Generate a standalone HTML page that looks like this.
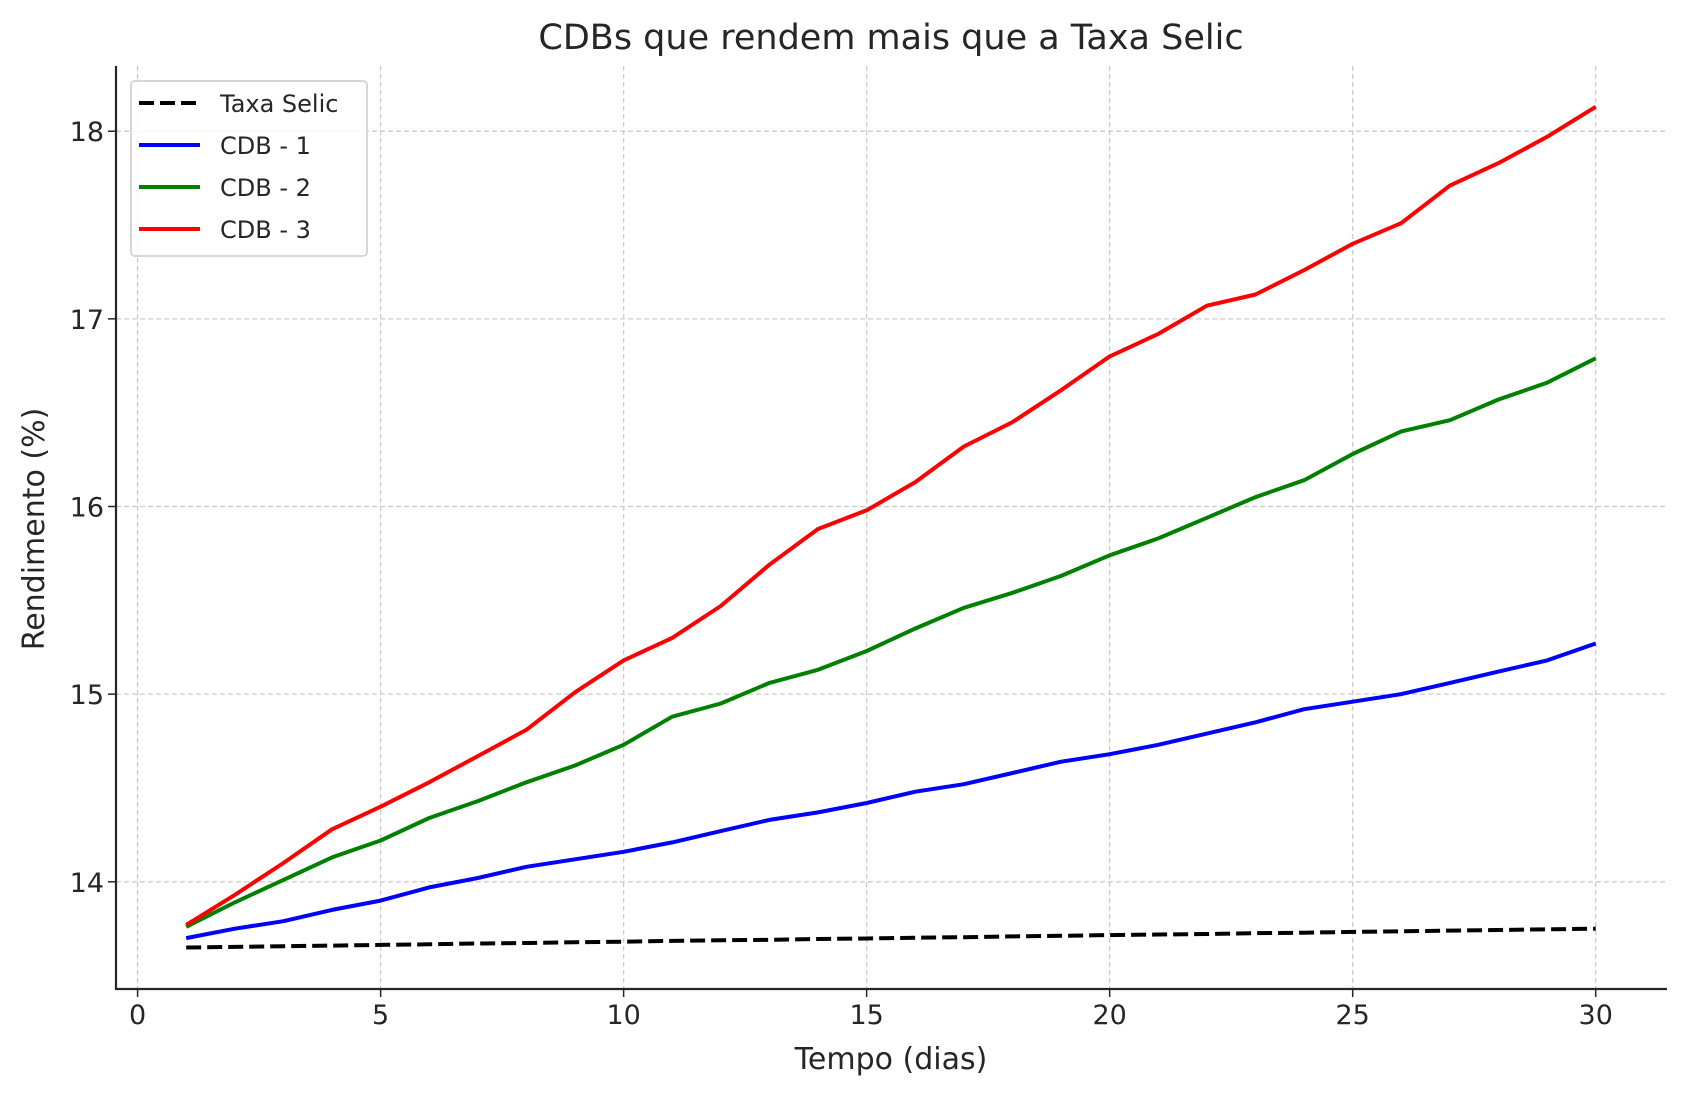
<!DOCTYPE html>
<html><head><meta charset="utf-8"><style>
html,body{margin:0;padding:0;background:#fff;}
svg text{font-family:"DejaVu Sans","Liberation Sans",sans-serif;fill:#262626;}
</style></head><body>
<svg id="chart" width="1686" height="1097" xmlns="http://www.w3.org/2000/svg">
<rect width="1686" height="1097" fill="#fff"/>
<g id="grid"></g>
<g id="series"></g>
<g id="axes"></g>
<text x="891" y="49" font-size="35" text-anchor="middle">CDBs que rendem mais que a Taxa Selic</text>
<text x="891" y="1069" font-size="30" text-anchor="middle">Tempo (dias)</text>
<text x="0" y="0" font-size="30" text-anchor="middle" transform="translate(44,529) rotate(-90)">Rendimento (%)</text>
<g id="legend"></g>
</svg>
<script>
const days = [1,2,3,4,5,6,7,8,9,10,11,12,13,14,15,16,17,18,19,20,21,22,23,24,25,26,27,28,29,30];
const selic = [13.65,13.653,13.657,13.66,13.664,13.667,13.671,13.674,13.678,13.681,13.685,13.688,13.691,13.695,13.698,13.702,13.705,13.709,13.712,13.716,13.719,13.722,13.726,13.729,13.733,13.736,13.74,13.743,13.747,13.75];
const cdb1 = [13.70,13.75,13.79,13.85,13.90,13.97,14.02,14.08,14.12,14.16,14.21,14.27,14.33,14.37,14.42,14.48,14.52,14.58,14.64,14.68,14.73,14.79,14.85,14.92,14.96,15.00,15.06,15.12,15.18,15.27];
const cdb2 = [13.76,13.89,14.01,14.13,14.22,14.34,14.43,14.53,14.62,14.73,14.88,14.95,15.06,15.13,15.23,15.35,15.46,15.54,15.63,15.74,15.83,15.94,16.05,16.14,16.28,16.40,16.46,16.57,16.66,16.79];
const cdb3 = [13.77,13.93,14.10,14.28,14.40,14.53,14.67,14.81,15.01,15.18,15.30,15.47,15.69,15.88,15.98,16.13,16.32,16.45,16.62,16.80,16.92,17.07,17.13,17.26,17.40,17.51,17.71,17.83,17.97,18.13];
const xTicks = [0,5,10,15,20,25,30];
const yTicks = [14,15,16,17,18];
const seriesNames = ["Taxa Selic","CDB - 1","CDB - 2","CDB - 3"];

const NS = "http://www.w3.org/2000/svg";
const L = 116, R = 1667, T = 66, B = 989;
function xs(v){ return 137.6 + v * (1595.7 - 137.6) / 30; }
function ys(v){ return 881.8 - (v - 14) * (881.8 - 131.2) / 4; }
function mk(tag, attrs, parent){ const e = document.createElementNS(NS, tag); for (const k in attrs) e.setAttribute(k, attrs[k]); parent.appendChild(e); return e; }

const grid = document.getElementById('grid');
const axes = document.getElementById('axes');
xTicks.forEach(t => {
  const g = mk('line', {x1: xs(t), x2: xs(t), y1: T, y2: B, stroke: '#cccccc', 'stroke-width': 1.3, 'stroke-dasharray': '5,3'}, grid);
  
  
  const tk = mk('line', {x1: xs(t), x2: xs(t), y1: B, y2: B + 8, stroke: '#262626', 'stroke-width': 1.5}, axes);
  
  
  const lb = mk('text', {x: xs(t), y: B + 35, 'font-size': 27, 'text-anchor': 'middle'}, axes);
  lb.textContent = t;
  
  
});
yTicks.forEach(t => {
  const g = mk('line', {x1: L, x2: R, y1: ys(t), y2: ys(t), stroke: '#cccccc', 'stroke-width': 1.3, 'stroke-dasharray': '5,3'}, grid);
  
  
  const tk = mk('line', {x1: L - 8, x2: L, y1: ys(t), y2: ys(t), stroke: '#262626', 'stroke-width': 1.5}, axes);
  
  
  const lb = mk('text', {x: L - 12, y: ys(t) + 10, 'font-size': 27, 'text-anchor': 'end'}, axes);
  lb.textContent = t;
  
  
});
const ax1 = mk('line', {x1: L, x2: L, y1: T, y2: B + 1, stroke: '#262626', 'stroke-width': 2.2}, axes);


const ax2 = mk('line', {x1: L - 1, x2: R, y1: B, y2: B, stroke: '#262626', 'stroke-width': 2.2}, axes);



const ser = document.getElementById('series');
const defs = [
  {vals: selic, color: '#000000', dash: '15,6', name: 'line-taxa-selic'},
  {vals: cdb1, color: '#0000ff', dash: null, name: 'line-cdb-1'},
  {vals: cdb2, color: '#008000', dash: null, name: 'line-cdb-2'},
  {vals: cdb3, color: '#ff0000', dash: null, name: 'line-cdb-3'}
];
defs.forEach(d => {
  const pts = days.map((x, i) => xs(x).toFixed(1) + ',' + ys(d.vals[i]).toFixed(1)).join(' ');
  const a = {points: pts, fill: 'none', stroke: d.color, 'stroke-width': 4, 'stroke-linejoin': 'round'};
  if (d.dash) a['stroke-dasharray'] = d.dash;
  const p = mk('polyline', a, ser);
  
  
});

const lg = document.getElementById('legend');
const box = mk('rect', {x: 131, y: 81, width: 236, height: 175, rx: 4, fill: '#fff', 'fill-opacity': 0.85, stroke: '#d6d6d6', 'stroke-width': 2}, lg);


seriesNames.forEach((n, i) => {
  const y = 103 + i * 42;
  const a = {x1: 139, x2: 200, y1: y, y2: y, stroke: defs[i].color, 'stroke-width': 4};
  if (defs[i].dash) a['stroke-dasharray'] = '15,6';
  const ln = mk('line', a, lg);
  
  
  const t = mk('text', {x: 220, y: y + 9, 'font-size': 24}, lg);
  t.textContent = n;
  
  
});
</script>
</body></html>
